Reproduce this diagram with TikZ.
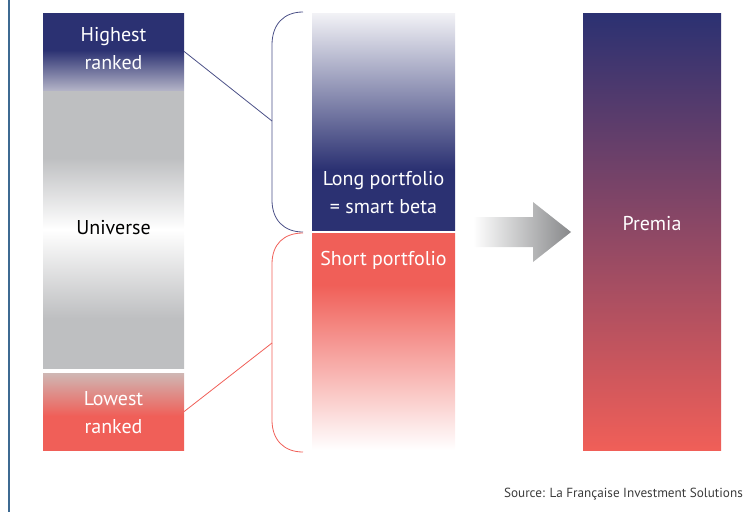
\documentclass[tikz,border=0pt]{standalone}
\usepackage{fontspec}
\setmainfont{PT Sans}
\usepackage{xcolor}
\usepackage{tikz}

\definecolor{navy}{HTML}{2B3172}
\definecolor{coral}{HTML}{F05F58}
\definecolor{silver}{HTML}{BEBFC1}
\definecolor{lavender}{HTML}{B2B2C6}
\definecolor{rose}{HTML}{CFB7B4}
\definecolor{paleblue}{HTML}{F2F2F6}
\definecolor{arrowgrey}{HTML}{87888A}
\definecolor{framelin}{HTML}{3D6A92}
\definecolor{sourcegrey}{HTML}{3C3C3C}

\pgfdeclareverticalshading{highshade}{100bp}{color(0bp)=(lavender); color(25bp)=(lavender); color(51bp)=(navy); color(100bp)=(navy)}
\pgfdeclareverticalshading{univshade}{100bp}{color(0bp)=(silver); color(34bp)=(silver); color(50bp)=(white); color(63bp)=(silver); color(100bp)=(silver)}
\pgfdeclareverticalshading{lowshade}{100bp}{color(0bp)=(coral); color(47bp)=(coral); color(75bp)=(rose); color(100bp)=(rose)}
\pgfdeclareverticalshading{longshade}{100bp}{color(0bp)=(navy); color(39bp)=(navy); color(75bp)=(paleblue); color(100bp)=(paleblue)}
\pgfdeclareverticalshading{shortshade}{100bp}{color(0bp)=(white); color(25bp)=(white); color(63bp)=(coral); color(100bp)=(coral)}

\newcommand{\bigfont}{\fontsize{20}{28}\selectfont}

\begin{document}
\begin{tikzpicture}[x=1pt,y=1pt,yscale=-1,
    bar/.style={inner sep=0pt, align=center, text=white, font=\bigfont},
    label/.style={inner sep=0pt, align=center, text=white, font=\bigfont},
    longbrace/.style={draw=navy!85, line width=0.8pt},
    shortbrace/.style={draw=coral, line width=0.8pt}]
        \useasboundingbox (0,0) rectangle (746,512);
        
        %Straight Lines: frame
        \draw [color=framelin, line width=1.4pt] (9,0) -- (9,512) ;
        
        %Shape: Rectangle (left column)
        \node (highest) [bar, shading=highshade, minimum width=141, minimum height=77] at (113.5,51.5) {};
        \node (universe) [bar, shading=univshade, minimum width=141, minimum height=277, text=black] at (113.5,229.5) {};
        \node (lowest) [bar, shading=lowshade, minimum width=141, minimum height=77] at (113.5,411.5) {};
        
        %Shape: Rectangle (middle column)
        \node (long) [bar, shading=longshade, minimum width=143, minimum height=217] at (383.5,121.5) {};
        \node (short) [bar, shading=shortshade, minimum width=143, minimum height=217] at (383.5,341.5) {};
        
        %Shape: Rectangle (right column)
        \node (premia) [bar, top color=navy, bottom color=coral, middle color=navy!50!coral, minimum width=138, minimum height=437] at (652,231.5) {};
        
        %Shape: Braces
        \draw [longbrace] (303,12) .. controls (284,12) and (272,24) .. (272,45) -- (272,200) .. controls (272,220) and (284,232) .. (303,232) ;
        \draw [shortbrace] (303,233) .. controls (284,233) and (272,244) .. (272,264) -- (272,420) .. controls (272,440) and (284,452) .. (303,452) ;
        \coordinate (longtip) at (272,121);
        \coordinate (shorttip) at (272,343);
        
        %Straight Lines
        \draw [longbrace] (highest.east) -- (longtip) ;
        \draw [shortbrace] (lowest.east) -- (shorttip) ;
        
        %Shape: Arrow
        \shade [left color=white, right color=arrowgrey] (473,217) -- (533,217) -- (533,202) -- (571,232) -- (533,262) -- (533,247) -- (473,247) -- cycle ;
        
        % Text Node
        \node (hightext) [label] at (113.5,48.5) {Highest\\ranked};
        % Text Node
        \node (univtext) [label, text=black] at (113.5,228) {Universe};
        % Text Node
        \node (lowtext) [label] at (113.5,412.5) {Lowest\\ranked};
        % Text Node
        \node (longtext) [label] at (383.5,192.5) {Long portfolio\\= smart beta};
        % Text Node
        \node (shorttext) [label] at (383.5,260) {Short portfolio};
        % Text Node
        \node (premiatext) [label] at (652,224) {Premia};
        % Text Node
        \node (source) [anchor=east, inner sep=0pt, text=sourcegrey, font=\fontsize{13.2}{15}\selectfont] at (743,494) {Source: La Française Investment Solutions};
        
\end{tikzpicture}
\end{document}
